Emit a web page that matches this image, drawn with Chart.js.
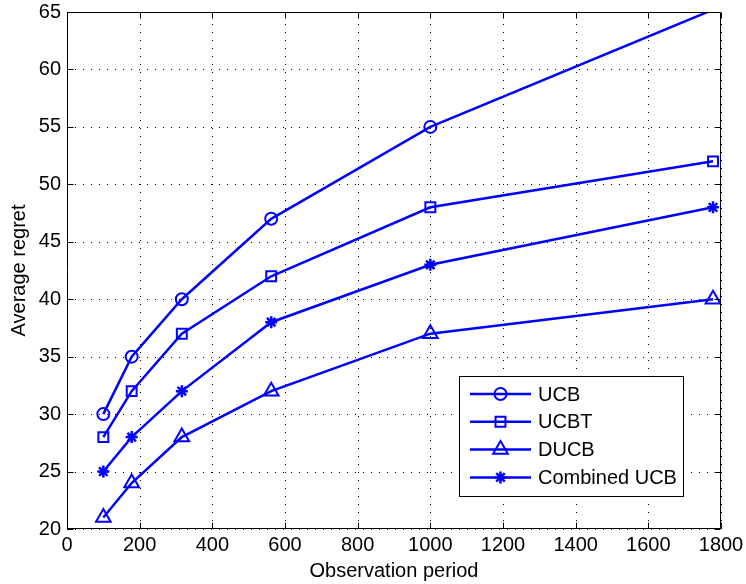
<!DOCTYPE html>
<html>
<head>
<meta charset="utf-8">
<script src="https://cdn.jsdelivr.net/npm/chart.js@4/dist/chart.umd.min.js"></script>
<style>
html,body{margin:0;padding:0;background:#fff;}
#wrap{width:746px;height:584px;position:relative;}
</style>
</head>
<body>
<div id="wrap"><canvas id="c" width="746" height="584"></canvas></div>
<script>
const periods = [100, 178, 316, 562, 1000, 1778];
const ucb = [30, 35, 40, 47, 55, 65.2];
const ucbt = [28, 32, 37, 42, 48, 52];
const ducb = [21, 24, 28, 32, 37, 40];
const combined = [25, 28, 32, 38, 43, 48];
const seriesNames = ['UCB', 'UCBT', 'DUCB', 'Combined UCB'];
const xTickLabels = [0, 200, 400, 600, 800, 1000, 1200, 1400, 1600, 1800];
const yTickLabels = [20, 25, 30, 35, 40, 45, 50, 55, 60, 65];

const BLUE = '#0000ff';
const FONT = 'Helvetica, Arial, "Liberation Sans", sans-serif';
const styles = [
  {pointStyle: 'circle', r: 6},
  {pointStyle: 'rect', r: 7},
  {pointStyle: 'triangle', r: 8.5},
  {pointStyle: 'star', r: 6}
];
const series = [ucb, ucbt, ducb, combined];

const datasets = series.map((vals, i) => ({
  label: seriesNames[i],
  data: periods.map((p, j) => ({x: p, y: vals[j]})),
  borderColor: BLUE,
  backgroundColor: 'rgba(0,0,0,0)',
  borderWidth: 2.5,
  pointStyle: styles[i].pointStyle,
  pointRadius: ctx => (ctx.raw && ctx.raw.y > yTickLabels[yTickLabels.length - 1]) ? 0 : styles[i].r,
  pointBorderWidth: i === 3 ? 2.5 : 2,
  pointBorderColor: BLUE,
  pointBackgroundColor: 'rgba(0,0,0,0)',
  tension: 0,
  clip: 0
}));

const gridPlugin = {
  id: 'dottedGrid',
  beforeDatasetsDraw(chart) {
    const {ctx, chartArea: a, scales} = chart;
    ctx.save();
    ctx.strokeStyle = '#000';
    ctx.lineWidth = 1;
    ctx.setLineDash([1, 7]);
    ctx.beginPath();
    xTickLabels.forEach(v => {
      const px = Math.round(scales.x.getPixelForValue(v)) + 0.5;
      ctx.moveTo(px, a.bottom); ctx.lineTo(px, a.top);
    });
    yTickLabels.forEach(v => {
      const py = Math.round(scales.y.getPixelForValue(v)) + 0.5;
      ctx.moveTo(a.left, py); ctx.lineTo(a.right, py);
    });
    ctx.stroke();
    ctx.restore();
  },
  afterDraw(chart) {
    const {ctx, chartArea: a, scales} = chart;
    ctx.save();
    ctx.setLineDash([]);
    ctx.strokeStyle = '#000';
    ctx.lineWidth = 1;
    const L = Math.round(a.left) + 0.5, R = Math.round(a.right) - 0.5;
    const T = Math.round(a.top) + 0.5, B = Math.round(a.bottom) - 0.5;
    ctx.beginPath();
    ctx.rect(L, T, R - L, B - T);
    ctx.stroke();
    const tl = 6;
    ctx.beginPath();
    xTickLabels.forEach(v => {
      const px = Math.round(scales.x.getPixelForValue(v)) + 0.5;
      ctx.moveTo(px, B); ctx.lineTo(px, B - tl);
      ctx.moveTo(px, T); ctx.lineTo(px, T + tl);
    });
    yTickLabels.forEach(v => {
      const py = Math.round(scales.y.getPixelForValue(v)) + 0.5;
      ctx.moveTo(L, py); ctx.lineTo(L + tl, py);
      ctx.moveTo(R, py); ctx.lineTo(R - tl, py);
    });
    ctx.stroke();

    // legend
    const lx = a.right - 262, ly = a.bottom - 153, lw = 224, lh = 120;
    ctx.fillStyle = '#fff';
    ctx.fillRect(lx, ly, lw, lh);
    ctx.strokeStyle = '#000';
    ctx.lineWidth = 1;
    ctx.strokeRect(Math.round(lx) + 0.5, Math.round(ly) + 0.5, lw, lh);
    ctx.font = '20px ' + FONT;
    ctx.textBaseline = 'middle';
    ctx.textAlign = 'left';
    chart.data.datasets.forEach((ds, i) => {
      const y = ly + 18 + i * 27.8;
      ctx.strokeStyle = BLUE;
      ctx.lineWidth = 2.5;
      ctx.beginPath();
      ctx.moveTo(lx + 11, y); ctx.lineTo(lx + 72, y);
      ctx.stroke();
      ctx.lineWidth = i === 3 ? 2.5 : 2;
      ctx.fillStyle = 'rgba(0,0,0,0)';
      Chart.helpers.drawPoint(ctx, {pointStyle: styles[i].pointStyle, radius: styles[i].r, rotation: 0, borderWidth: ctx.lineWidth}, lx + 41.5, y);
      ctx.fillStyle = '#000';
      ctx.fillText(ds.label, lx + 79, y + 1);
    });
    ctx.restore();
  }
};

new Chart(document.getElementById('c'), {
  type: 'line',
  data: {datasets},
  options: {
    responsive: false,
    animation: false,
    devicePixelRatio: 1,
    layout: {padding: {top: 12, right: 25, left: 0, bottom: 0}},
    plugins: {legend: {display: false}, tooltip: {enabled: false}},
    scales: {
      x: {
        type: 'linear',
        min: 0, max: 1800,
        afterFit: s => { s.height = 55; s.paddingLeft = 0; s.paddingRight = 0; },
        afterBuildTicks: s => { s.ticks = xTickLabels.map(v => ({value: v})); },
        ticks: {color: '#000', font: {size: 20, family: FONT}, padding: 4, maxRotation: 0, autoSkip: false, callback: v => String(v)},
        grid: {display: false, drawTicks: false},
        border: {display: false},
        title: {display: true, text: 'Observation period', color: '#000', font: {size: 20, family: FONT}, padding: {top: 0, bottom: 1}}
      },
      y: {
        type: 'linear',
        min: 20, max: 65,
        afterFit: s => { s.width = 67; s.paddingTop = 0; s.paddingBottom = 0; },
        afterBuildTicks: s => { s.ticks = yTickLabels.map(v => ({value: v})); },
        ticks: {color: '#000', font: {size: 20, family: FONT}, padding: 6, autoSkip: false, callback: v => String(v)},
        grid: {display: false, drawTicks: false},
        border: {display: false},
        title: {display: true, text: 'Average regret', color: '#000', font: {size: 20, family: FONT}, padding: {top: 7, bottom: 0}}
      }
    }
  },
  plugins: [gridPlugin]
});
</script>
</body>
</html>
